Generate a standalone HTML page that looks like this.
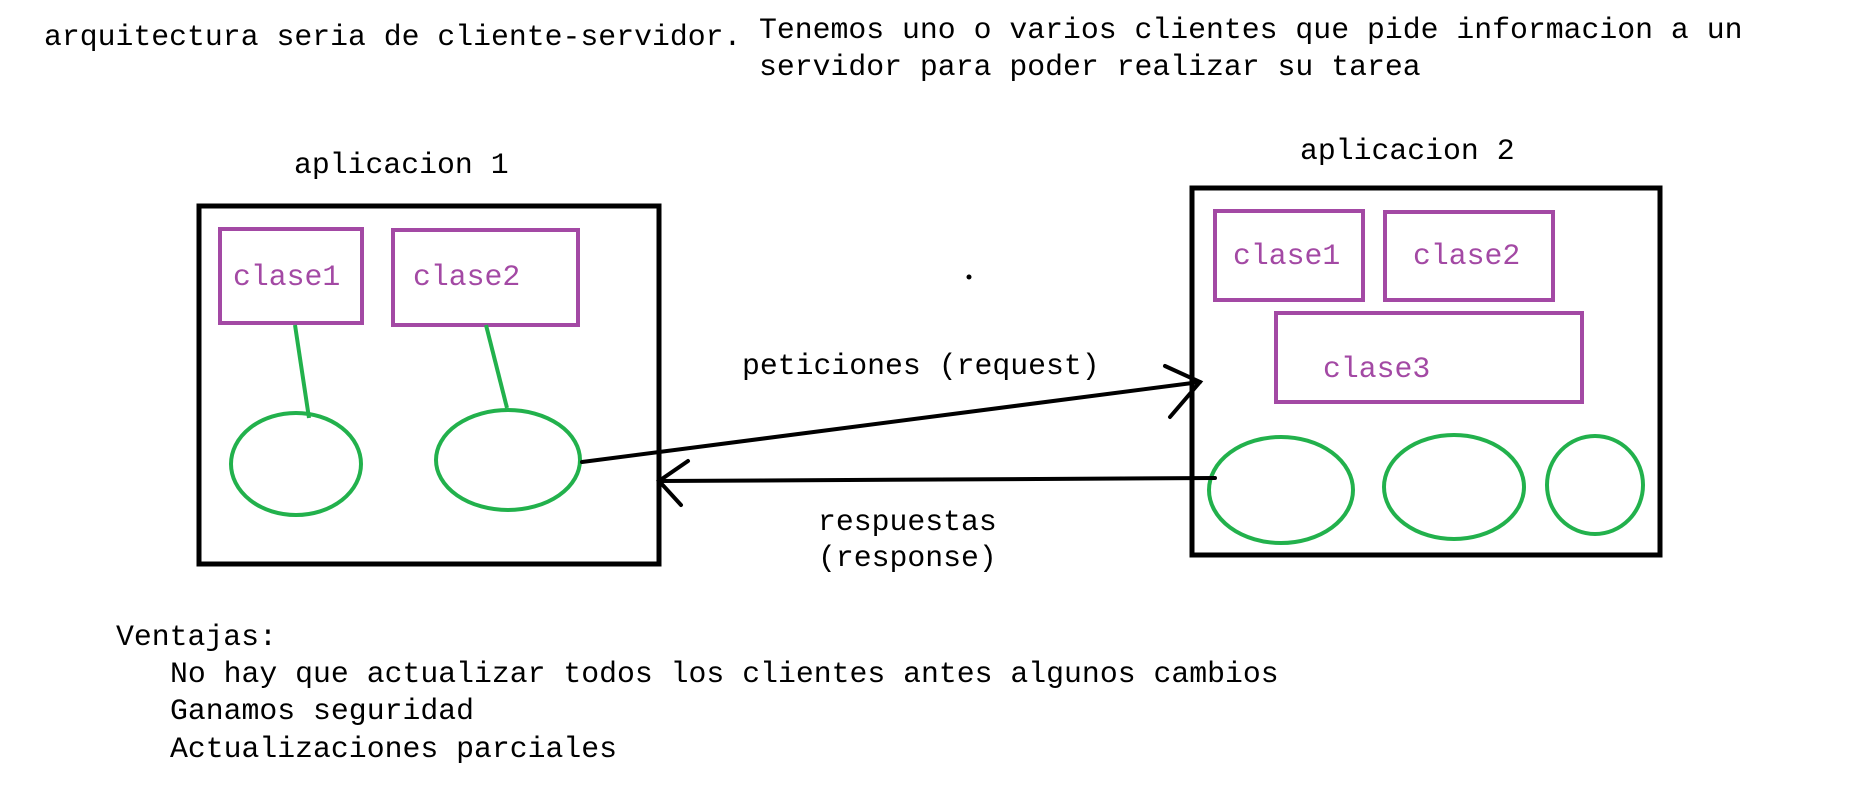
<!DOCTYPE html>
<html><head><meta charset="utf-8"><style>
html,body{margin:0;padding:0;background:#fff;}
svg{display:block;}
text{font-family:"Liberation Mono",monospace;font-size:29.8px;}
</style></head><body>
<svg width="1853" height="802" viewBox="0 0 1853 802" xmlns="http://www.w3.org/2000/svg">
<rect width="1853" height="802" fill="#fff"/>
<text x="44" y="45" fill="#000">arquitectura seria de cliente-servidor.</text>
<text x="759" y="38" fill="#000">Tenemos uno o varios clientes que pide informacion a un</text>
<text x="759" y="75" fill="#000">servidor para poder realizar su tarea</text>

<text x="294" y="173" fill="#000">aplicacion 1</text>
<text x="1300" y="159" fill="#000">aplicacion 2</text>

<g fill="none" stroke="#000" stroke-width="5">
<rect x="199" y="206" width="460" height="358"/>
<rect x="1192" y="188" width="468" height="367"/>
</g>

<g fill="none" stroke="#a349a4" stroke-width="4">
<rect x="220" y="229" width="142" height="94"/>
<rect x="393" y="230" width="185" height="95"/>
<rect x="1215" y="211" width="148" height="89"/>
<rect x="1385" y="212" width="168" height="88"/>
<rect x="1276" y="313" width="306" height="89"/>
</g>
<g fill="#a349a4">
<text x="233" y="285">clase1</text>
<text x="413" y="285">clase2</text>
<text x="1233" y="264">clase1</text>
<text x="1413" y="264">clase2</text>
<text x="1323" y="377">clase3</text>
</g>

<g fill="none" stroke="#22b14c" stroke-width="4">
<ellipse cx="296" cy="464" rx="65" ry="51"/>
<ellipse cx="508" cy="460" rx="72" ry="50"/>
<ellipse cx="1281" cy="490" rx="72" ry="53"/>
<ellipse cx="1454" cy="487" rx="70" ry="52"/>
<ellipse cx="1595" cy="485" rx="48" ry="49"/>
<line x1="295" y1="325" x2="309" y2="418"/>
<line x1="486" y1="325" x2="507" y2="408"/>
</g>

<g fill="none" stroke="#000" stroke-width="4" stroke-linecap="round">
<line x1="582" y1="462" x2="1200" y2="382"/>
<polyline points="1165,366 1200,382 1170,417"/>
<line x1="1215" y1="478" x2="659" y2="481"/>
<polyline points="688,461 659,481 681,505"/>
</g>
<circle cx="969" cy="277" r="2.5" fill="#000"/>

<text x="742" y="374" fill="#000">peticiones (request)</text>
<text x="818" y="530" fill="#000">respuestas</text>
<text x="818" y="566" fill="#000">(response)</text>

<text x="116" y="645" fill="#000">Ventajas:</text>
<text x="170" y="682" fill="#000">No hay que actualizar todos los clientes antes algunos cambios</text>
<text x="170" y="719" fill="#000">Ganamos seguridad</text>
<text x="170" y="757" fill="#000">Actualizaciones parciales</text>
</svg>
</body></html>
